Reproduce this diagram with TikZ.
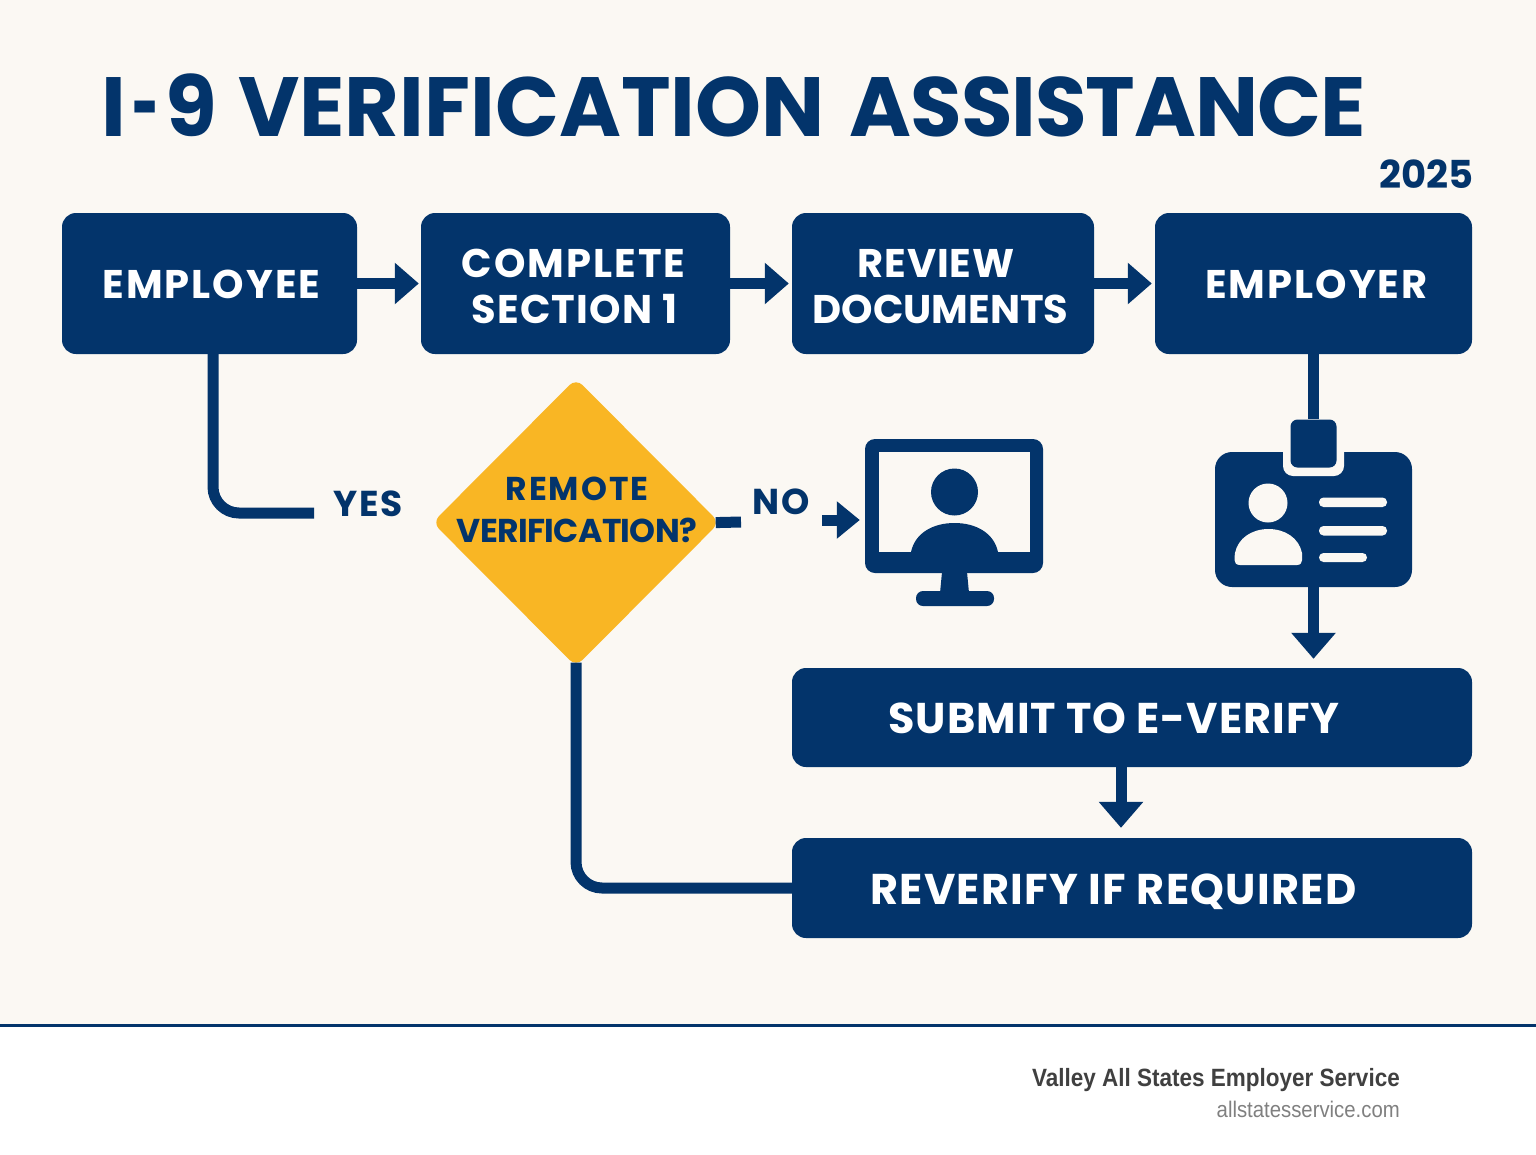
\documentclass[tikz,border=0pt]{standalone}
\usepackage{xcolor}
\usepackage{fontspec}
\setmainfont{Poppins}
\newfontfamily\footfont{Liberation Sans}[FakeStretch=0.9]
\usetikzlibrary{shapes.geometric, arrows.meta, positioning, calc}
\definecolor{navyblue}{RGB}{3, 52, 107}
\definecolor{creamback}{RGB}{251, 248, 243}
\definecolor{signyellow}{RGB}{249, 182, 36}
\definecolor{footdark}{RGB}{64, 64, 64}
\definecolor{footgray}{RGB}{128, 128, 128}
\newcommand{\track}[3][0]{\mbox{\addfontfeature{LetterSpace=#2}#3\kern#1pt}}

\begin{document}
\begin{tikzpicture}[
    x=1pt, y=-1pt,
    flowbox/.style={rectangle, rounded corners=14pt, fill=navyblue, text=white, minimum height=141pt, align=center, inner sep=0pt, text height=30pt, text depth=0pt, font=\fontsize{40}{46}\selectfont\bfseries},
    twoline/.style={flowbox, text height=79pt},
    widebox/.style={flowbox, minimum width=680pt, minimum height=100pt, text height=32pt, font=\fontsize{43}{46}\selectfont\bfseries},
    flowline/.style={draw=navyblue, line width=11pt},
    flowarrow/.style={flowline, -{Triangle[length=24pt, width=40pt]}},
    yesno/.style={text=navyblue, inner sep=0pt, font=\fontsize{36}{40}\selectfont\bfseries},
    iconpart/.style={fill=navyblue, draw=none},
    iconcut/.style={fill=creamback, draw=none}
]
    \useasboundingbox (0,0) rectangle (1536,1154);

    % Background and footer
    \fill[creamback] (0,0) rectangle (1536,1025);
    \fill[white] (0,1025) rectangle (1536,1154);
    \draw[navyblue, line width=3pt] (0,1025) -- (1536,1025);
    \node[anchor=east, inner sep=0pt, text=footdark, font=\fontsize{25}{28}\selectfont\footfont\bfseries] (company) at (1400,1080) {Valley All States Employer Service};
    \node[anchor=east, inner sep=0pt, text=footgray, font=\fontsize{22.6}{24}\selectfont\footfont] (website) at (1400,1109) {allstatesservice.com};

    % Title
    \node[anchor=west, inner sep=0pt, text=navyblue, font=\fontsize{84}{90}\selectfont\bfseries] (title) at (101,105) {I\kern6.5pt\scalebox{0.55}[1]{-}\kern6.5pt 9\kern3pt{} VERIFICATION\kern7pt{} \track{-1.3}{ASSISTANCE}};
    \node[anchor=east, inner sep=0pt, text=navyblue, font=\fontsize{38.5}{40}\selectfont\bfseries] (year) at (1474,174) {2025};

    % Top row
    \node[flowbox, minimum width=295pt] (employee) at (209.5,283.5) {\track[-4]{5}{EMPLOYEE}};
    \node[twoline, minimum width=309pt] (complete) at (575.5,283.5) {\track[4]{5}{COMPLETE}\\\track[2]{3}{SECTION 1}};
    \node[twoline, minimum width=302pt] (review) at (943,283.5) {\track[14]{2}{REVIEW}\\\track[5]{0}{DOCUMENTS}};
    \node[flowbox, minimum width=317pt] (employer) at (1313.5,283.5) {\track[-6]{5}{EMPLOYER}};

    % Lower boxes
    \node[widebox, minimum height=99pt] (submit) at (1132,717.5) {\track[36]{2.3}{SUBMIT TO E-VERIFY}};
    \node[widebox] (reverify) at (1132,888) {\track[37]{3}{REVERIFY IF REQUIRED}};

    % Decision
    \node[diamond, fill=signyellow, rounded corners=9pt, minimum width=287pt, minimum height=288pt, inner sep=0pt] (remote) at (576,522.5) {};
    \node[text=navyblue, align=center, inner sep=0pt, font=\fontsize{33}{42}\selectfont\bfseries] (remotetext) at (577,510) {\track{6}{REMOTE}\\\track{-2}{VERIFICATION?}};
    \node[yesno] (yes) at (368,504) {\track{5}{YES}};
    \node[yesno] (no) at (781,502) {\track{5}{NO}};
    \coordinate (yesend) at (314,513);
    \coordinate (nostub) at (741,522);
    \coordinate (nostart) at (822,520);

    % Monitor icon
    \node[rectangle, rounded corners=10pt, iconpart, minimum width=178pt, minimum height=134pt, inner sep=0pt] (monitor) at (954,506) {};
    \fill[iconcut] (879,452) rectangle (1030,552);
    \fill[iconpart] (954.5,492) circle (23.5pt);
    \fill[iconpart] (911,552) .. controls (915,533) and (933,523) .. (954.5,523) .. controls (976,523) and (994,533) .. (998,552) -- cycle;
    \fill[iconpart] (942,572) -- (967,572) -- (969,593) -- (940,593) -- cycle;
    \fill[iconpart, rounded corners=7pt] (916,591) rectangle (994,606);

    % Badge icon
    \node[rectangle, rounded corners=17pt, iconpart, minimum width=197pt, minimum height=135pt, inner sep=0pt] (badge) at (1313.5,519.5) {};
    \fill[iconcut, rounded corners=10pt] (1283,440) rectangle (1344,476);
    \node[rectangle, rounded corners=7pt, iconpart, minimum width=46pt, minimum height=48pt, inner sep=0pt] (clip) at (1313.5,443.5) {};
    \fill[iconcut] (1268,503) circle (19.5pt);
    \fill[iconcut] (1240,565) .. controls (1232,565) and (1235,556) .. (1235,553) .. controls (1238,538) and (1252,529) .. (1268.5,529) .. controls (1285,529) and (1299,538) .. (1302,553) .. controls (1302,556) and (1304,565) .. (1297,565) -- cycle;
    \fill[iconcut, rounded corners=4.5pt] (1319,497.5) rectangle (1387,507);
    \fill[iconcut, rounded corners=4.5pt] (1319,526) rectangle (1387,535.5);
    \fill[iconcut, rounded corners=4.5pt] (1319,553) rectangle (1367,562);

    % Arrows along the top
    \draw[flowarrow, shorten >=2pt] (employee) -- (complete);
    \draw[flowarrow, shorten >=3pt] (complete) -- (review);
    \draw[flowarrow, shorten >=3pt] (review) -- (employer);

    % Lines around the decision
    \draw[flowline, rounded corners=26pt] ($(employee.south)+(3.5,0)$) |- (yesend);
    \draw[flowline, shorten <=-4pt] (remote.east) -- (nostub);
    \draw[flowarrow, -{Triangle[length=23pt, width=36pt]}, shorten >=5pt] (nostart) -- (monitor.west |- nostart);
    \draw[flowline, rounded corners=26pt, shorten <=-4pt] (remote.south) |- (reverify.west);

    % Arrows down the right side
    \draw[flowline] (employer.south) -- (clip.north);
    \draw[flowarrow, -{Triangle[length=26pt, width=43pt]}, shorten >=9pt] (badge.south) -- (badge.south |- submit.north);
    \draw[flowarrow, -{Triangle[length=26pt, width=43pt]}, shorten >=10pt] ($(submit.south)+(-11,0)$) -- ($(reverify.north)+(-11,0)$);
\end{tikzpicture}
\end{document}
